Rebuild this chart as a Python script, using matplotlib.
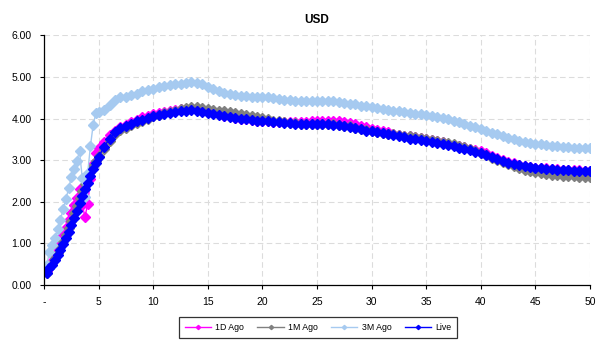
import matplotlib
matplotlib.use("Agg")
import matplotlib.pyplot as plt

plt.rcParams['font.family'] = ['Liberation Sans', 'DejaVu Sans']

# tenors in years: quarterly out to 5y, then half-yearly to 50y
tenors = [0.25, 0.5, 0.75, 1.0, 1.25, 1.5, 1.75, 2.0, 2.25, 2.5,
          2.75, 3.0, 3.25, 3.5, 3.75, 4.0, 4.25, 4.5, 4.75, 5.0,
          5.5, 6.0, 6.5, 7.0, 7.5, 8.0, 8.5, 9.0, 9.5, 10.0,
          10.5, 11.0, 11.5, 12.0, 12.5, 13.0, 13.5, 14.0, 14.5, 15.0,
          15.5, 16.0, 16.5, 17.0, 17.5, 18.0, 18.5, 19.0, 19.5, 20.0,
          20.5, 21.0, 21.5, 22.0, 22.5, 23.0, 23.5, 24.0, 24.5, 25.0,
          25.5, 26.0, 26.5, 27.0, 27.5, 28.0, 28.5, 29.0, 29.5, 30.0,
          30.5, 31.0, 31.5, 32.0, 32.5, 33.0, 33.5, 34.0, 34.5, 35.0,
          35.5, 36.0, 36.5, 37.0, 37.5, 38.0, 38.5, 39.0, 39.5, 40.0,
          40.5, 41.0, 41.5, 42.0, 42.5, 43.0, 43.5, 44.0, 44.5, 45.0,
          45.5, 46.0, 46.5, 47.0, 47.5, 48.0, 48.5, 49.0, 49.5, 50.0]

one_day_ago = [0.33, 0.47, 0.58, 0.72, 0.86, 1.02, 1.20, 1.38, 1.56, 1.74,
               1.92, 2.10, 2.30, 1.92, 1.64, 1.95, 2.54, 2.90, 3.17, 3.29,
               3.44, 3.60, 3.71, 3.79, 3.84, 3.91, 3.97, 4.03, 4.07, 4.10,
               4.13, 4.16, 4.18, 4.20, 4.22, 4.23, 4.24, 4.22, 4.19, 4.16,
               4.13, 4.10, 4.07, 4.05, 4.02, 4.00, 3.98, 3.97, 3.95, 3.94,
               3.93, 3.92, 3.92, 3.92, 3.92, 3.92, 3.92, 3.92, 3.93, 3.93,
               3.93, 3.94, 3.94, 3.93, 3.92, 3.90, 3.87, 3.83, 3.79, 3.76,
               3.73, 3.70, 3.67, 3.64, 3.61, 3.59, 3.57, 3.55, 3.53, 3.51,
               3.48, 3.46, 3.43, 3.40, 3.37, 3.34, 3.31, 3.27, 3.24, 3.21,
               3.16, 3.10, 3.05, 3.00, 2.96, 2.92, 2.89, 2.86, 2.84, 2.82,
               2.81, 2.80, 2.79, 2.78, 2.77, 2.77, 2.76, 2.76, 2.75, 2.75]

one_month_ago = [0.30, 0.43, 0.53, 0.65, 0.78, 0.91, 1.06, 1.21, 1.37, 1.54,
                 1.72, 1.90, 2.08, 2.26, 2.43, 2.60, 2.72, 2.85, 2.97, 3.10,
                 3.28, 3.47, 3.62, 3.72, 3.78, 3.84, 3.90, 3.95, 4.00, 4.05,
                 4.09, 4.13, 4.16, 4.19, 4.22, 4.25, 4.27, 4.27, 4.25, 4.22,
                 4.20, 4.19, 4.17, 4.15, 4.13, 4.11, 4.09, 4.07, 4.04, 4.01,
                 3.98, 3.95, 3.93, 3.91, 3.90, 3.89, 3.88, 3.88, 3.87, 3.87,
                 3.87, 3.87, 3.86, 3.85, 3.83, 3.81, 3.78, 3.75, 3.72, 3.70,
                 3.68, 3.66, 3.64, 3.62, 3.60, 3.59, 3.57, 3.55, 3.53, 3.51,
                 3.49, 3.47, 3.44, 3.41, 3.38, 3.35, 3.31, 3.27, 3.23, 3.18,
                 3.12, 3.06, 3.00, 2.95, 2.90, 2.85, 2.81, 2.77, 2.74, 2.71,
                 2.69, 2.67, 2.65, 2.64, 2.63, 2.62, 2.61, 2.60, 2.60, 2.59]

three_months_ago = [0.48, 0.80, 0.96, 1.12, 1.34, 1.56, 1.82, 2.06, 2.32, 2.59,
                    2.78, 2.99, 3.21, 2.58, 2.12, 2.70, 3.34, 3.85, 4.13, 4.15,
                    4.20, 4.33, 4.45, 4.51, 4.52, 4.56, 4.60, 4.65, 4.69, 4.72,
                    4.75, 4.78, 4.80, 4.82, 4.84, 4.86, 4.87, 4.86, 4.82, 4.77,
                    4.71, 4.65, 4.61, 4.58, 4.56, 4.54, 4.53, 4.52, 4.52, 4.52,
                    4.51, 4.49, 4.47, 4.45, 4.44, 4.43, 4.43, 4.42, 4.42, 4.41,
                    4.41, 4.41, 4.41, 4.40, 4.38, 4.36, 4.34, 4.31, 4.29, 4.27,
                    4.25, 4.23, 4.21, 4.19, 4.17, 4.15, 4.14, 4.12, 4.10, 4.08,
                    4.06, 4.04, 4.01, 3.98, 3.95, 3.91, 3.87, 3.83, 3.80, 3.76,
                    3.71, 3.66, 3.62, 3.57, 3.53, 3.50, 3.47, 3.44, 3.42, 3.40,
                    3.38, 3.36, 3.35, 3.33, 3.32, 3.31, 3.30, 3.30, 3.29, 3.29]

live = [0.28, 0.40, 0.49, 0.60, 0.72, 0.84, 0.98, 1.12, 1.27, 1.43,
        1.60, 1.78, 1.96, 2.13, 2.30, 2.46, 2.62, 2.78, 2.93, 3.08,
        3.32, 3.52, 3.67, 3.77, 3.83, 3.88, 3.93, 3.97, 4.01, 4.05,
        4.08, 4.10, 4.13, 4.15, 4.17, 4.19, 4.20, 4.19, 4.16, 4.13,
        4.10, 4.08, 4.06, 4.04, 4.02, 4.00, 3.98, 3.97, 3.95, 3.94,
        3.93, 3.92, 3.91, 3.90, 3.89, 3.88, 3.87, 3.87, 3.86, 3.86,
        3.86, 3.86, 3.85, 3.84, 3.82, 3.80, 3.77, 3.74, 3.71, 3.69,
        3.67, 3.65, 3.62, 3.60, 3.57, 3.55, 3.52, 3.50, 3.48, 3.46,
        3.43, 3.41, 3.38, 3.36, 3.33, 3.30, 3.27, 3.24, 3.20, 3.17,
        3.12, 3.07, 3.02, 2.98, 2.94, 2.91, 2.88, 2.85, 2.83, 2.81,
        2.80, 2.79, 2.78, 2.77, 2.76, 2.76, 2.75, 2.75, 2.74, 2.74]

series = [("1D Ago", one_day_ago, "#FF00FF"),
          ("1M Ago", one_month_ago, "#808080"),
          ("3M Ago", three_months_ago, "#A6CAF0"),
          ("Live", live, "#0000FF")]

x_ticks = [0, 5, 10, 15, 20, 25, 30, 35, 40, 45, 50]
x_labels = ["-", "5", "10", "15", "20", "25", "30", "35", "40", "45", "50"]
y_ticks = [0, 1, 2, 3, 4, 5, 6]

fig = plt.figure(figsize=(6.14, 3.49), dpi=100)
ax = fig.add_axes([0.0717, 0.1834, 0.8893, 0.7154])

for name, vals, col in series:
    ax.plot(tenors, vals, color=col, lw=1.0, marker="D", ms=4.8,
            mec=col, mfc=col, label=name)

ax.set_xlim(0, 50)
ax.set_ylim(0, 6)
ax.set_xticks(x_ticks)
ax.set_xticklabels(x_labels)
ax.set_yticks(y_ticks)
ax.set_yticklabels(["%.2f" % v for v in y_ticks])
ax.tick_params(labelsize=7.5, length=3, width=0.8, direction="out", pad=6)

ax.grid(True, color="#DCDCDC", ls=(0, (5, 3)), lw=0.8)
ax.set_axisbelow(True)
for side in ("top", "right"):
    ax.spines[side].set_visible(False)
for side in ("left", "bottom"):
    ax.spines[side].set_linewidth(0.9)

ax.set_title("USD", fontsize=8.5, fontweight="bold", pad=9)

leg = fig.legend(loc="center", bbox_to_anchor=(0.518, 0.0616), ncol=4,
                 fontsize=6.3, frameon=True, fancybox=False, handlelength=3.0,
                 markerscale=0.45, columnspacing=1.5, handletextpad=0.5,
                 borderpad=0.7, borderaxespad=0.0)
leg.get_frame().set_edgecolor("black")
leg.get_frame().set_linewidth(0.9)

fig.savefig("out.png", dpi=100)
